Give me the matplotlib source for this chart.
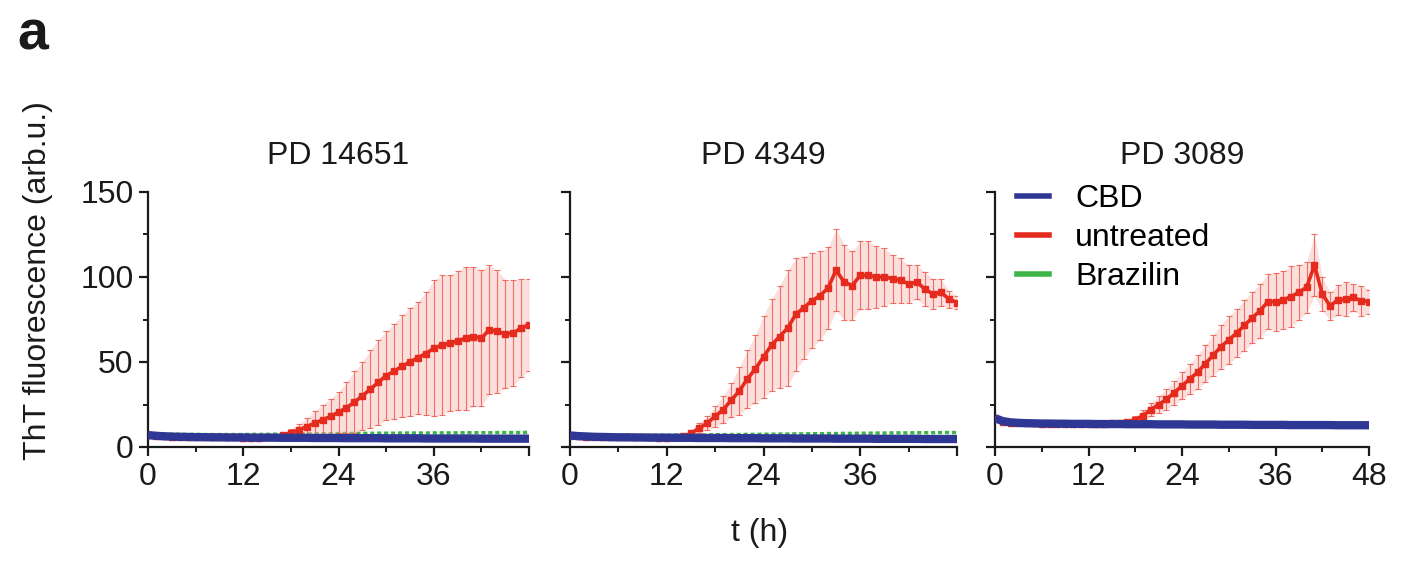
import matplotlib
matplotlib.use("Agg")
import matplotlib.pyplot as plt
from matplotlib.lines import Line2D
from matplotlib.ticker import MultipleLocator

plt.rcParams['font.family'] = ['Liberation Sans', 'DejaVu Sans']

# ---------------- data ----------------
hours = list(range(49))
panel_titles = ["PD 14651", "PD 4349", "PD 3089"]
series_labels = ["CBD", "untreated", "Brazilin"]
x_ticks = [0, 12, 24, 36, 48]
x_ticklabels_12 = ["0", "12", "24", "36", ""]
x_ticklabels_3 = ["0", "12", "24", "36", "48"]
y_ticks = [0, 50, 100, 150]

# PD 14651
cbd_1 = [7.0, 6.6, 6.3, 6.1, 6.0, 5.9, 5.8, 5.8, 5.7, 5.7,
         5.6, 5.6, 5.6, 5.5, 5.5, 5.5, 5.5, 5.4, 5.4, 5.4,
         5.4, 5.3, 5.3, 5.3, 5.3, 5.2, 5.2, 5.2, 5.2, 5.2,
         5.1, 5.1, 5.1, 5.1, 5.1, 5.0, 5.0, 5.0, 5.0, 5.0,
         5.0, 5.0, 4.9, 4.9, 4.9, 4.9, 4.9, 4.9, 4.9]
untreated_1 = [6.8, 6.5, 6.2, 6.0, 5.9, 5.8, 5.8, 5.7, 5.7, 5.6,
               5.6, 5.6, 5.5, 5.5, 5.5, 5.6, 5.8, 7.0, 8.5, 10.0,
               12.0, 14.0, 16.0, 18.0, 20.5, 23.0, 26.5, 30.0, 34.0, 38.0,
               42.0, 44.5, 47.5, 50.0, 52.5, 55.0, 58.0, 60.0, 61.0, 62.5,
               64.0, 65.0, 64.0, 69.0, 68.0, 66.5, 67.0, 70.0, 72.0]
untreated_sd_1 = [0.5, 0.5, 0.5, 0.5, 0.5, 0.5, 0.5, 0.5, 0.5, 0.5,
                  0.5, 0.5, 0.5, 0.5, 0.5, 0.5, 0.5, 1.0, 2.0, 3.5,
                  5, 7, 9, 10.5, 12, 15, 18, 20, 23, 25,
                  26, 28, 30, 32, 33, 36, 40, 41, 40, 41,
                  42, 41, 40, 38, 36, 32, 31, 29, 27]
brazilin_1 = [7.8, 7.6, 7.5, 7.5, 7.4, 7.4, 7.4, 7.3, 7.3, 7.3,
              7.3, 7.3, 7.3, 7.4, 7.4, 7.4, 7.5, 7.5, 7.6, 7.6,
              7.7, 7.7, 7.8, 7.8, 7.9, 7.9, 8.0, 8.0, 8.0, 8.1,
              8.1, 8.1, 8.2, 8.2, 8.2, 8.2, 8.3, 8.3, 8.3, 8.3,
              8.4, 8.4, 8.4, 8.4, 8.5, 8.5, 8.5, 8.5, 8.6]

# PD 4349
cbd_2 = [6.8, 6.4, 6.2, 6.0, 5.9, 5.8, 5.7, 5.7, 5.6, 5.6,
         5.5, 5.5, 5.5, 5.4, 5.4, 5.4, 5.3, 5.3, 5.3, 5.3,
         5.2, 5.2, 5.2, 5.2, 5.1, 5.1, 5.1, 5.1, 5.0, 5.0,
         5.0, 5.0, 5.0, 4.9, 4.9, 4.9, 4.9, 4.9, 4.8, 4.8,
         4.8, 4.8, 4.8, 4.8, 4.7, 4.7, 4.7, 4.7, 4.7]
untreated_2 = [6.6, 6.3, 6.1, 6.0, 5.9, 5.8, 5.7, 5.7, 5.6, 5.6,
               5.6, 5.5, 5.5, 5.6, 6.2, 8.0, 11.0, 14.0, 18.0, 22.0,
               27.5, 33.0, 40.0, 46.0, 53.0, 60.0, 65.0, 70.0, 78.0, 82.0,
               86.0, 89.0, 93.5, 104.0, 97.0, 95.0, 101.0, 101.0, 100.0, 100.0,
               99.0, 98.0, 96.0, 97.0, 93.0, 90.0, 91.0, 87.0, 85.0]
untreated_sd_2 = [0.5, 0.5, 0.5, 0.5, 0.5, 0.5, 0.5, 0.5, 0.5, 0.5,
                  0.5, 0.5, 0.5, 0.5, 0.8, 1.5, 3.0, 4.0, 6.0, 8.0,
                  10, 14, 17, 20, 24, 27, 30, 34, 33, 30,
                  28, 26, 24, 24, 22, 20, 20, 20, 18, 17,
                  14, 13, 11, 10, 10, 9, 8, 5, 4]
brazilin_2 = [7.2, 7.0, 6.9, 6.8, 6.8, 6.8, 6.8, 6.8, 6.8, 6.8,
              6.9, 6.9, 6.9, 7.0, 7.0, 7.0, 7.1, 7.1, 7.2, 7.2,
              7.3, 7.3, 7.4, 7.4, 7.5, 7.5, 7.6, 7.6, 7.7, 7.7,
              7.8, 7.8, 7.9, 7.9, 8.0, 8.0, 8.1, 8.1, 8.2, 8.2,
              8.3, 8.3, 8.3, 8.4, 8.4, 8.4, 8.5, 8.5, 8.5]

# PD 3089
cbd_3 = [17.0, 15.2, 14.5, 14.2, 14.0, 13.9, 13.8, 13.8, 13.7, 13.7,
         13.6, 13.6, 13.6, 13.5, 13.5, 13.5, 13.5, 13.4, 13.4, 13.4,
         13.4, 13.3, 13.3, 13.3, 13.3, 13.2, 13.2, 13.2, 13.2, 13.1,
         13.1, 13.1, 13.1, 13.0, 13.0, 13.0, 13.0, 13.0, 12.9, 12.9,
         12.9, 12.9, 12.9, 12.9, 12.8, 12.8, 12.8, 12.8, 12.8]
untreated_3 = [16.5, 15.0, 14.4, 14.1, 14.0, 13.9, 13.8, 13.8, 13.7, 13.7,
               13.7, 13.7, 13.7, 13.7, 13.8, 13.9, 14.1, 14.6, 16.0, 18.5,
               22.0, 25.0, 28.0, 32.0, 36.0, 40.0, 44.0, 49.0, 54.0, 59.0,
               63.0, 67.0, 71.5, 76.0, 80.0, 85.5, 85.5, 86.5, 88.5, 91.0,
               94.0, 107.0, 90.0, 83.0, 86.5, 87.0, 88.0, 86.0, 85.5]
untreated_sd_3 = [0.5, 0.5, 0.5, 0.5, 0.5, 0.5, 0.5, 0.5, 0.5, 0.5,
                  0.5, 0.5, 0.5, 0.5, 0.5, 0.5, 0.8, 1.0, 2.0, 3.0,
                  4, 5, 6, 7, 8, 9, 10, 11, 12, 13,
                  14, 14, 15, 15, 16, 16, 17, 17, 18, 16,
                  15, 18, 10, 8, 9, 10, 8, 9, 7]
brazilin_3 = [15.8, 14.6, 14.0, 13.8, 13.6, 13.5, 13.4, 13.4, 13.3, 13.3,
              13.3, 13.2, 13.2, 13.2, 13.2, 13.1, 13.1, 13.1, 13.1, 13.0,
              13.0, 13.0, 13.0, 13.0, 12.9, 12.9, 12.9, 12.9, 12.9, 12.8,
              12.8, 12.8, 12.8, 12.8, 12.8, 12.7, 12.7, 12.7, 12.7, 12.7,
              12.7, 12.6, 12.6, 12.6, 12.6, 12.6, 12.6, 12.5, 12.5]

panels = [
    (cbd_1, untreated_1, untreated_sd_1, brazilin_1),
    (cbd_2, untreated_2, untreated_sd_2, brazilin_2),
    (cbd_3, untreated_3, untreated_sd_3, brazilin_3),
]

# ---------------- style ----------------
BLUE = "#2f3795"
RED = "#e52a1e"
GREEN = "#3db549"
FS = 23

W, H = 1403, 564
fig = plt.figure(figsize=(W / 100, H / 100), dpi=100)

axes_px = [(148, 529), (570, 957), (995, 1369)]
top_px, bot_px = 192, 447

for i, ((x0, x1), (cbd, unt, sd, bra)) in enumerate(zip(axes_px, panels)):
    ax = fig.add_axes([x0 / W, 1 - bot_px / H, (x1 - x0) / W, (bot_px - top_px) / H])
    lo = [m - s for m, s in zip(unt, sd)]
    hi = [m + s for m, s in zip(unt, sd)]
    ax.plot(hours, bra, color=GREEN, lw=2.5, ls=(0, (1.2, 0.8)), zorder=2)
    ax.fill_between(hours, lo, hi, color="#f7b9b3", alpha=0.45, lw=0, zorder=2.5)
    ax.errorbar(hours, unt, yerr=sd, fmt="none", ecolor="#ec5a4f", elinewidth=0.8,
                capsize=2.5, capthick=0.8, alpha=0.85, zorder=3)
    ax.plot(hours, unt, color=RED, lw=2.6, marker="s", ms=4.4, mec=RED, zorder=3.5)
    ax.plot(hours, cbd, color=BLUE, lw=6, solid_capstyle="butt", zorder=4)

    ax.set_xlim(0, 48)
    ax.set_ylim(0, 150)
    ax.set_xticks(x_ticks)
    ax.xaxis.set_minor_locator(MultipleLocator(6))
    ax.set_yticks(y_ticks)
    ax.yaxis.set_minor_locator(MultipleLocator(25))
    ax.set_xticklabels(x_ticklabels_3 if i == 2 else x_ticklabels_12, fontsize=FS)
    if i == 0:
        ax.set_yticklabels([str(v) for v in y_ticks], fontsize=FS)
    else:
        ax.set_yticklabels([])
    for s in ["top", "right"]:
        ax.spines[s].set_visible(False)
    for s in ["left", "bottom"]:
        ax.spines[s].set_linewidth(1.6)
        ax.spines[s].set_color("#1a1a1a")
    ax.tick_params(which="major", direction="out", length=6.5, width=1.6, pad=4, colors="#1a1a1a")
    ax.tick_params(which="minor", direction="out", length=3.5, width=1.4, colors="#1a1a1a")
    ax.tick_params(labelcolor="#1a1a1a")
    ax.set_title(panel_titles[i], fontsize=FS, pad=20, color="#1a1a1a")
    ax.patch.set_alpha(0)

    if i == 2:
        handles = [Line2D([], [], color=BLUE, lw=4),
                   Line2D([], [], color=RED, lw=4),
                   Line2D([], [], color=GREEN, lw=4)]
        ax.legend(handles, series_labels, loc="upper left", bbox_to_anchor=(0.06, 1.03),
                  frameon=False, fontsize=FS, handlelength=1.0, handletextpad=0.8,
                  labelspacing=0.28, borderpad=0, borderaxespad=0)

fig.text(38 / W, 1 - 281 / H, "ThT fluorescence (arb.u.)", rotation=90, fontsize=FS,
         ha="center", va="center", color="#1a1a1a")
fig.text(760 / W, 1 - 533 / H, "t (h)", fontsize=FS, ha="center", va="center", color="#1a1a1a")
fig.text(17 / W, 1 - 36 / H, "a", fontsize=40, fontweight="bold", ha="left", va="center",
         color="#1a1a1a")

fig.savefig("out.png", dpi=100, facecolor="white")
